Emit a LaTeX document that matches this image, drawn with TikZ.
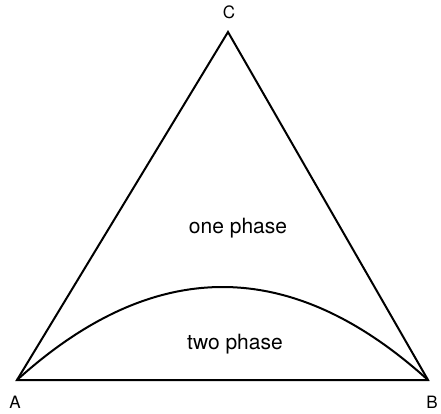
\documentclass[tikz,border=0pt]{standalone}
\usepackage{fontspec}
\setmainfont{TeX Gyre Heros}
\usetikzlibrary{positioning}
\tikzset{
  side/.style={line width=2pt, line join=miter},
  vtx/.style={font=\fontsize{17}{17}\selectfont, inner sep=0pt},
  reg/.style={font=\fontsize{21}{21}\selectfont, inner sep=0pt, anchor=base},
}
\begin{document}
\begin{tikzpicture}[x=1pt,y=-1pt]
  \useasboundingbox (0,0) rectangle (441,414);
  % corners of the triangle
  \coordinate (A) at (17,380);
  \coordinate (B) at (428,380);
  \coordinate (C) at (228,32);
  \draw[side] (A) -- (B) -- (C) -- cycle;
  % phase boundary
  \draw[side] (A) .. controls (154,256) and (291,256) .. (B);
  \node[vtx] (la) at (15,402) {A};
  \node[vtx] (lb) at (432,402) {B};
  \node[vtx] (lc) at (229,12) {C};
  \node[reg] (one) at (238,233) {one phase};
  \node[reg] (two) at (235,349) {two phase};
\end{tikzpicture}
\end{document}
